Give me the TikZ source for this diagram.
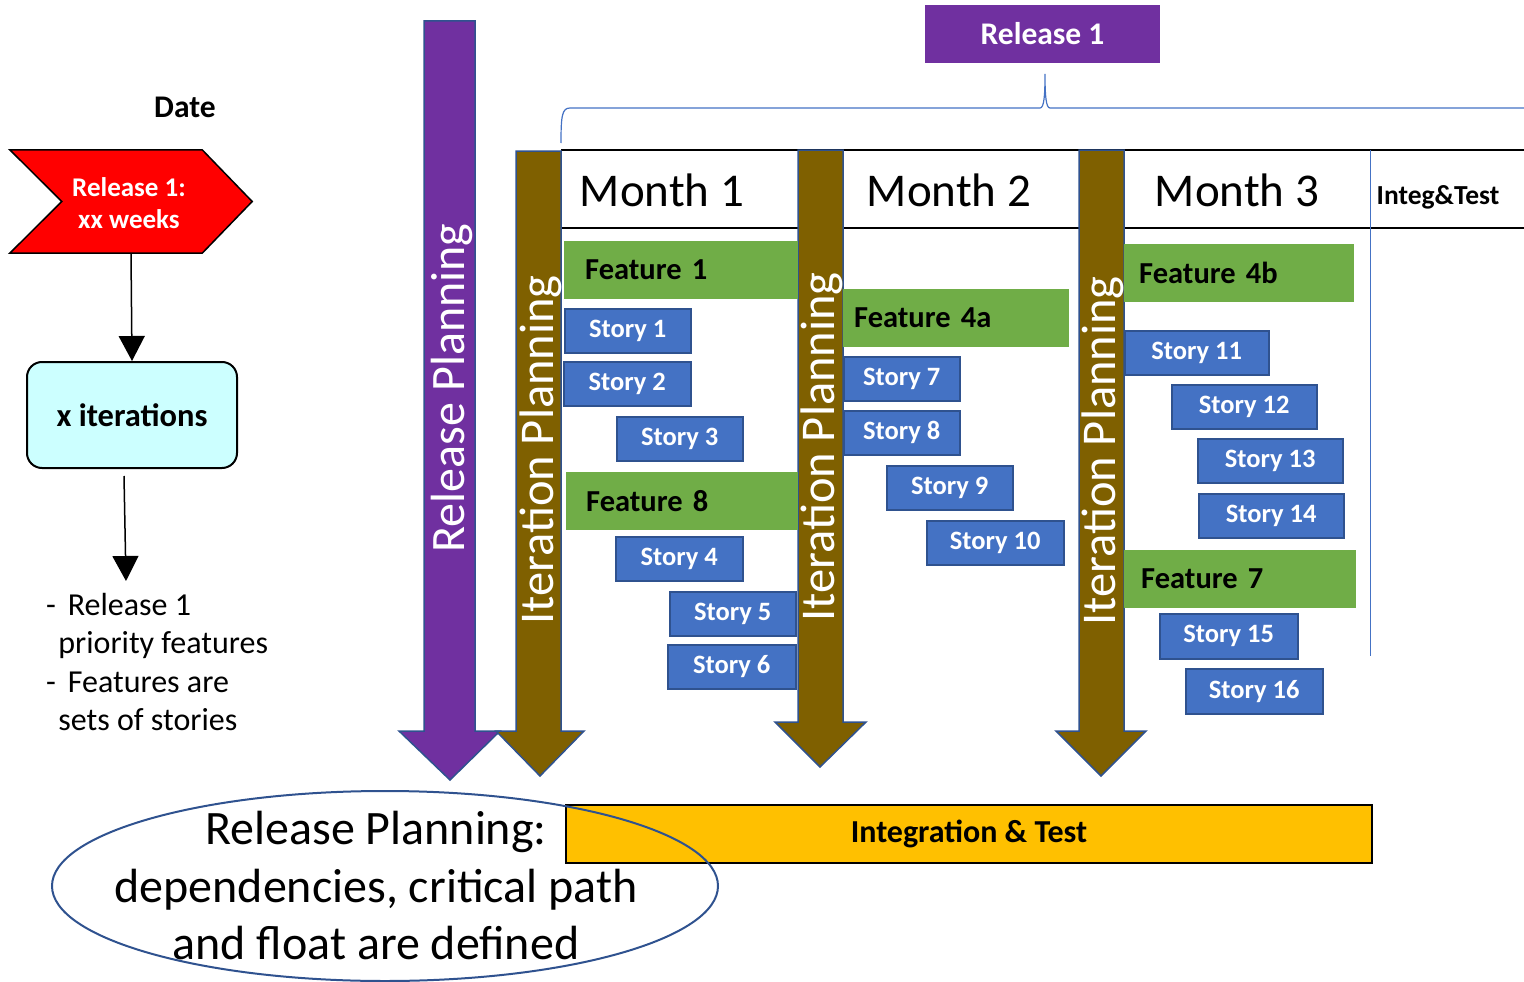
\documentclass[tikz,border=0pt]{standalone}
\usepackage{fontspec}
\setmainfont{Carlito}
\usetikzlibrary{arrows.meta}

\definecolor{relpurple}{HTML}{7030A0}
\definecolor{iterbrown}{HTML}{7F6000}
\definecolor{featgreen}{HTML}{70AD47}
\definecolor{storyblue}{HTML}{4472C4}
\definecolor{edgeblue}{HTML}{2F528F}
\definecolor{intyellow}{HTML}{FFC000}
\definecolor{chevred}{HTML}{FF0000}
\definecolor{itercyan}{HTML}{CCFFFF}

\begin{document}
\begin{tikzpicture}[x=1pt, y=-1pt,
    % shapes of the plan
    bigarrow/.style={draw=edgeblue, line width=1.5pt, line join=miter},
    arrowtext/.style={rotate=90, text=white, inner sep=0pt},
    storybox/.style={draw=edgeblue, line width=1.5pt, fill=storyblue, text=white, anchor=north west,
        font=\fontsize{26.5}{30}\selectfont\bfseries, minimum height=44pt, inner sep=0pt},
    featbox/.style={fill=featgreen, anchor=north west, align=left, minimum height=58pt,
        inner xsep=20pt, inner ysep=0pt, font=\fontsize{30.5}{34}\selectfont\bfseries},
    monthtext/.style={font=\fontsize{47}{52}\selectfont, inner sep=0pt},
    tableline/.style={line width=1.5pt},
    flowarrow/.style={line width=1.5pt, -{Triangle[width=26pt, length=25pt]}}
]
    \useasboundingbox (0,0) rectangle (1524,982);

    % left column: release and iterations
    \node [font=\fontsize{31.5}{34}\selectfont\bfseries] (date) at (185,107) {Date};
    \node [minimum width=242pt, minimum height=103pt, inner sep=0pt] (chev) at (131,201.5) {};
    \draw [line width=1.5pt, line join=miter, fill=chevred] (chev.north west) -- ([xshift=-50pt]chev.north east) -- (chev.east)
        -- ([xshift=-50pt]chev.south east) -- (chev.south west) -- ([xshift=52pt]chev.west) -- cycle;
    \node [text=white, align=center, font=\fontsize{27}{32}\selectfont\bfseries] (chevtext) at (129,203.5) {Release 1:\\ xx weeks};
    \node [draw, line width=2pt, fill=itercyan, rounded corners=15pt, minimum width=210pt, minimum height=106pt,
        font=\fontsize{32.5}{36}\selectfont\bfseries] (iter) at (132,415) {x iterations};
    \node [anchor=north west, align=left, inner sep=0pt, font=\fontsize{32}{38.3}\selectfont] (notes) at (46,593)
        {-\hspace*{0.37em}Release 1\\ \hspace*{0.38em}priority features\\ -\hspace*{0.37em}Features are\\ \hspace*{0.38em}sets of stories};
    \coordinate (notestop) at (126,581);
    \draw [flowarrow] (chev.south) -- (iter.north);
    \draw [flowarrow] ([xshift=-8pt, yshift=-7pt]iter.south) -- (notestop);

    % table of months
    \draw [tableline] (561,150) -- (1524,150);
    \draw [tableline] (561,228) -- (1524,228);
    \draw [storyblue, line width=1pt] (1370,150) -- (1370,656);
    \node [monthtext] (m1) at (662,190) {Month 1};
    \node [monthtext] (m2) at (949,190) {Month 2};
    \node [monthtext] (m3) at (1237,190) {Month 3};
    \node [font=\fontsize{27.5}{30}\selectfont\bfseries, inner sep=0pt] (integ) at (1438,197) {Integ\&Test};

    % brace and release box
    \draw [storyblue, line width=1.2pt] (561,143) .. controls (561,116) and (562,108) .. (570,108) -- (1040,108)
        .. controls (1044,108) and (1045,96) .. (1045,74) .. controls (1045,96) and (1046,108) .. (1050,108) -- (1524,108);
    \node [fill=relpurple, text=white, minimum width=235pt, minimum height=58pt, inner sep=0pt,
        font=\fontsize{31.5}{34}\selectfont\bfseries] (rel) at (1042.5,34) {Release 1};

    % planning arrows
    \draw [bigarrow, fill=relpurple] (424,21) -- (475,21) -- (475,731) -- (500,731) -- (450,780) -- (399,731) -- (424,731) -- cycle;
    \node [arrowtext, font=\fontsize{48}{52}\selectfont] (relplan) at (452,388) {Release Planning};
    \draw [bigarrow, fill=iterbrown] (516,151) -- (561,151) -- (561,731) -- (584,731) -- (540,776) -- (496,731) -- (516,731) -- cycle;
    \node [arrowtext, font=\fontsize{48.5}{52}\selectfont] (itplan1) at (541,450) {Iteration Planning};
    \draw [bigarrow, fill=iterbrown] (798,150) -- (843,150) -- (843,722) -- (866,722) -- (820,767) -- (775,722) -- (798,722) -- cycle;
    \node [arrowtext, font=\fontsize{48.5}{52}\selectfont] (itplan2) at (822,447) {Iteration Planning};
    \draw [bigarrow, fill=iterbrown] (1079,150) -- (1124,150) -- (1124,731) -- (1146,731) -- (1101,776) -- (1056,731) -- (1079,731) -- cycle;
    \node [arrowtext, font=\fontsize{48.5}{52}\selectfont] (itplan3) at (1103,451) {Iteration Planning};

    % features
    \node [featbox, inner xsep=21pt, text width=192pt] (f1) at (564,241) {Feature 1};
    \node [featbox, text width=192pt] (f8) at (566,472) {Feature 8};
    \node [featbox, inner xsep=11pt, text width=204pt] (f4a) at (843,289) {Feature 4a};
    \node [featbox, inner xsep=15pt, text width=200pt] (f4b) at (1124,244) {Feature 4b};
    \node [featbox, inner xsep=17pt, text width=198pt] (f7) at (1124,550) {Feature 7};

    % stories
    \node [storybox, minimum width=126pt] (s1) at (564,308) {Story 1};
    \node [storybox, minimum width=127pt] (s2) at (563,361) {Story 2};
    \node [storybox, minimum width=126pt] (s3) at (616,416) {Story 3};
    \node [storybox, minimum width=127pt] (s4) at (615,536) {Story 4};
    \node [storybox, minimum width=126pt] (s5) at (669,591) {Story 5};
    \node [storybox, minimum width=128pt] (s6) at (667,644) {Story 6};
    \node [storybox, minimum width=116pt] (s7) at (843,356) {Story 7};
    \node [storybox, minimum width=116pt] (s8) at (843,410) {Story 8};
    \node [storybox, minimum width=126pt] (s9) at (886,465) {Story 9};
    \node [storybox, minimum width=137pt] (s10) at (926,520) {Story 10};
    \node [storybox, minimum width=144pt] (s11) at (1124,330) {Story 11};
    \node [storybox, minimum width=145pt] (s12) at (1171,384) {Story 12};
    \node [storybox, minimum width=145pt] (s13) at (1197,438) {Story 13};
    \node [storybox, minimum width=145pt] (s14) at (1198,493) {Story 14};
    \node [storybox, minimum width=138pt, minimum height=45pt] (s15) at (1159,613) {Story 15};
    \node [storybox, minimum width=137pt, minimum height=45pt] (s16) at (1185,668) {Story 16};

    % integration bar and summary
    \node [draw, line width=2pt, fill=intyellow, anchor=north west, minimum width=806pt, minimum height=58pt,
        inner sep=0pt, font=\fontsize{32}{36}\selectfont\bfseries] (intbar) at (565,804) {Integration \& Test};
    \draw [edgeblue, line width=2pt] (385,886) ellipse [x radius=333pt, y radius=95pt];
    \node [align=center, inner sep=0pt, font=\fontsize{48}{57.5}\selectfont] (summary) at (376,886)
        {Release Planning:\\ dependencies, critical path\\ and float are defined};
\end{tikzpicture}
\end{document}
